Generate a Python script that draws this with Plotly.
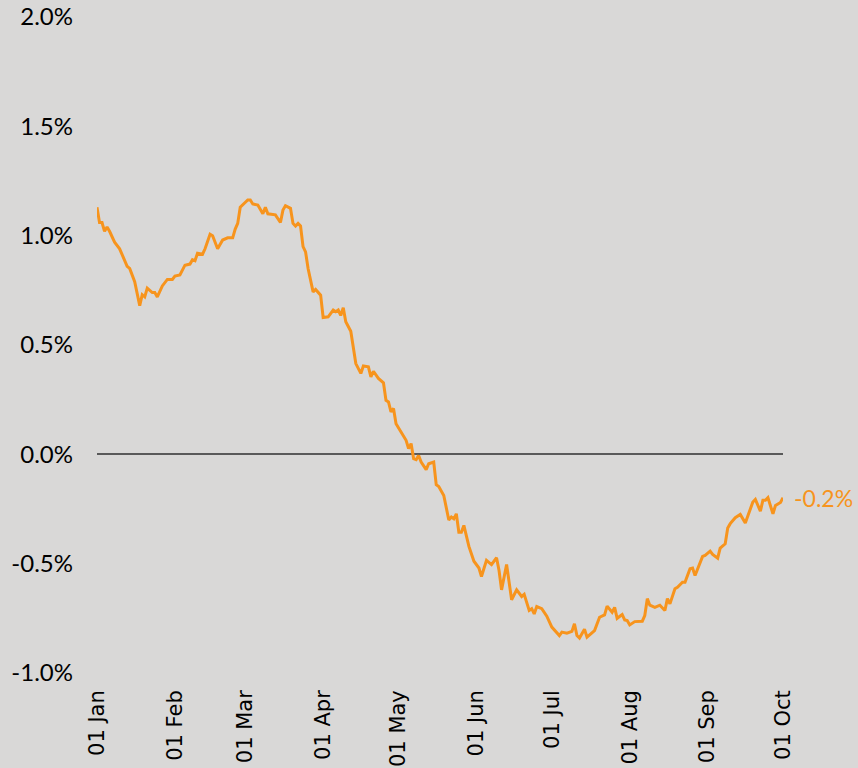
import plotly.graph_objects as go

dates = [
    "2023-01-01", "2023-01-02", "2023-01-03", "2023-01-04", "2023-01-05", "2023-01-06", "2023-01-08",
    "2023-01-10", "2023-01-13", "2023-01-14", "2023-01-16", "2023-01-18", "2023-01-19", "2023-01-20",
    "2023-01-21", "2023-01-23", "2023-01-24", "2023-01-25", "2023-01-27", "2023-01-29", "2023-01-31",
    "2023-02-01", "2023-02-03", "2023-02-05", "2023-02-07", "2023-02-08", "2023-02-09", "2023-02-10",
    "2023-02-12", "2023-02-13", "2023-02-15", "2023-02-16", "2023-02-18", "2023-02-20", "2023-02-22",
    "2023-02-24", "2023-02-25", "2023-02-26", "2023-02-27", "2023-03-01", "2023-03-02", "2023-03-03",
    "2023-03-04", "2023-03-06", "2023-03-08", "2023-03-09", "2023-03-10", "2023-03-13", "2023-03-15",
    "2023-03-16", "2023-03-17", "2023-03-19", "2023-03-20", "2023-03-21", "2023-03-22", "2023-03-23",
    "2023-03-24", "2023-03-25", "2023-03-26", "2023-03-28", "2023-03-29", "2023-03-31", "2023-04-01",
    "2023-04-03", "2023-04-05", "2023-04-06", "2023-04-07", "2023-04-08", "2023-04-09", "2023-04-10",
    "2023-04-12", "2023-04-14", "2023-04-16", "2023-04-17", "2023-04-19", "2023-04-20", "2023-04-21",
    "2023-04-23", "2023-04-25", "2023-04-26", "2023-04-27", "2023-04-28", "2023-04-29", "2023-04-30",
    "2023-05-02", "2023-05-04", "2023-05-05", "2023-05-06", "2023-05-07", "2023-05-08", "2023-05-09",
    "2023-05-10", "2023-05-12", "2023-05-13", "2023-05-15", "2023-05-16", "2023-05-17", "2023-05-19",
    "2023-05-21", "2023-05-22", "2023-05-23", "2023-05-24", "2023-05-25", "2023-05-26", "2023-05-27",
    "2023-05-29", "2023-05-31", "2023-06-02", "2023-06-03", "2023-06-05", "2023-06-07", "2023-06-09",
    "2023-06-10", "2023-06-11", "2023-06-13", "2023-06-14", "2023-06-15", "2023-06-17", "2023-06-19",
    "2023-06-20", "2023-06-22", "2023-06-23", "2023-06-24", "2023-06-25", "2023-06-27", "2023-06-29",
    "2023-07-01", "2023-07-04", "2023-07-05", "2023-07-07", "2023-07-09", "2023-07-10", "2023-07-11",
    "2023-07-12", "2023-07-14", "2023-07-15", "2023-07-17", "2023-07-18", "2023-07-20", "2023-07-22",
    "2023-07-23", "2023-07-25", "2023-07-26", "2023-07-27", "2023-07-29", "2023-07-30", "2023-07-31",
    "2023-08-01", "2023-08-03", "2023-08-06", "2023-08-07", "2023-08-08", "2023-08-09", "2023-08-11",
    "2023-08-13", "2023-08-15", "2023-08-16", "2023-08-17", "2023-08-19", "2023-08-20", "2023-08-22",
    "2023-08-23", "2023-08-25", "2023-08-26", "2023-08-27", "2023-08-30", "2023-08-31", "2023-09-02",
    "2023-09-03", "2023-09-05", "2023-09-06", "2023-09-08", "2023-09-09", "2023-09-10", "2023-09-12",
    "2023-09-14", "2023-09-16", "2023-09-17", "2023-09-19", "2023-09-20", "2023-09-22", "2023-09-23",
    "2023-09-24", "2023-09-25", "2023-09-27", "2023-09-28", "2023-09-30", "2023-10-01",
]

values = [
    1.13, 1.06, 1.06, 1.02, 1.04, 1.02, 0.97,
    0.94, 0.86, 0.85, 0.79, 0.68, 0.73, 0.72,
    0.76, 0.74, 0.74, 0.72, 0.77, 0.80, 0.80,
    0.815, 0.82, 0.865, 0.87, 0.89, 0.885, 0.92,
    0.915, 0.94, 1.007, 1.00, 0.94, 0.98, 0.99,
    0.99, 1.03, 1.056, 1.13, 1.15, 1.163, 1.163,
    1.145, 1.14, 1.10, 1.13, 1.10, 1.095, 1.06,
    1.117, 1.137, 1.125, 1.056, 1.044, 1.056, 1.044,
    0.95, 0.926, 0.85, 0.743, 0.754, 0.728, 0.626,
    0.629, 0.66, 0.652, 0.66, 0.635, 0.67, 0.606,
    0.563, 0.415, 0.37, 0.404, 0.40, 0.354, 0.38,
    0.347, 0.327, 0.247, 0.24, 0.194, 0.21, 0.14,
    0.10, 0.064, 0.026, 0.049, -0.02, -0.024, -0.005,
    -0.035, -0.07, -0.043, -0.035, -0.139, -0.147, -0.188,
    -0.30, -0.287, -0.295, -0.272, -0.356, -0.356, -0.325,
    -0.421, -0.489, -0.52, -0.559, -0.485, -0.504, -0.473,
    -0.531, -0.62, -0.504, -0.597, -0.665, -0.62, -0.65,
    -0.64, -0.714, -0.706, -0.73, -0.696, -0.706, -0.74,
    -0.79, -0.829, -0.813, -0.818, -0.81, -0.775, -0.829,
    -0.84, -0.80, -0.836, -0.818, -0.806, -0.745, -0.734,
    -0.694, -0.722, -0.70, -0.75, -0.733, -0.757, -0.76,
    -0.78, -0.765, -0.763, -0.737, -0.66, -0.69, -0.70,
    -0.69, -0.714, -0.66, -0.684, -0.615, -0.608, -0.585,
    -0.585, -0.523, -0.52, -0.554, -0.467, -0.462, -0.443,
    -0.458, -0.475, -0.429, -0.409, -0.337, -0.317, -0.29,
    -0.275, -0.314, -0.28, -0.218, -0.206, -0.26, -0.21,
    -0.21, -0.198, -0.272, -0.234, -0.22, -0.198,
]

tick_dates = ["2023-01-01", "2023-02-01", "2023-03-01", "2023-04-01", "2023-05-01",
              "2023-06-01", "2023-07-01", "2023-08-01", "2023-09-01", "2023-10-01"]
tick_labels = ["01 Jan", "01 Feb", "01 Mar", "01 Apr", "01 May",
               "01 Jun", "01 Jul", "01 Aug", "01 Sep", "01 Oct"]
y_ticks = [-1.0, -0.5, 0.0, 0.5, 1.0, 1.5, 2.0]
y_tick_labels = ["-1.0%", "-0.5%", "0.0%", "0.5%", "1.0%", "1.5%", "2.0%"]
end_label = "-0.2%"

ORANGE = "#F7941D"
BG = "#d9d8d7"

fig = go.Figure()
fig.add_trace(go.Scatter(
    x=dates, y=values, mode="lines",
    line=dict(color=ORANGE, width=3),
    hoverinfo="skip", showlegend=False,
))

fig.add_annotation(
    x=dates[-1], y=values[-1], text=end_label, showarrow=False,
    xanchor="left", yanchor="middle", xshift=9,
    font=dict(family="Lato", size=23, color=ORANGE),
)

fig.update_layout(
    width=858, height=768,
    margin=dict(l=97, r=75, t=17, b=95, autoexpand=False),
    paper_bgcolor=BG, plot_bgcolor=BG,
    showlegend=False,
)

fig.update_xaxes(
    range=["2023-01-01", "2023-10-01"],
    tickmode="array", tickvals=tick_dates, ticktext=tick_labels,
    tickangle=-90,
    tickfont=dict(family="DejaVu Sans", size=21, color="#000000"),
    showgrid=False, zeroline=False, showline=False, ticks="",
    ticklabelstandoff=12, automargin=False,
)

fig.update_yaxes(
    range=[-1.0, 2.0],
    tickmode="array", tickvals=y_ticks, ticktext=y_tick_labels,
    tickfont=dict(family="Lato", size=24, color="#000000"),
    showgrid=False, showline=False, ticks="",
    zeroline=True, zerolinecolor="#595959", zerolinewidth=2,
    ticklabelstandoff=23, automargin=False,
)

fig.write_html(
    "out.html",
    config={"displayModeBar": False},
    post_script="document.body.style.margin='0';document.body.style.background='" + BG + "';",
)
